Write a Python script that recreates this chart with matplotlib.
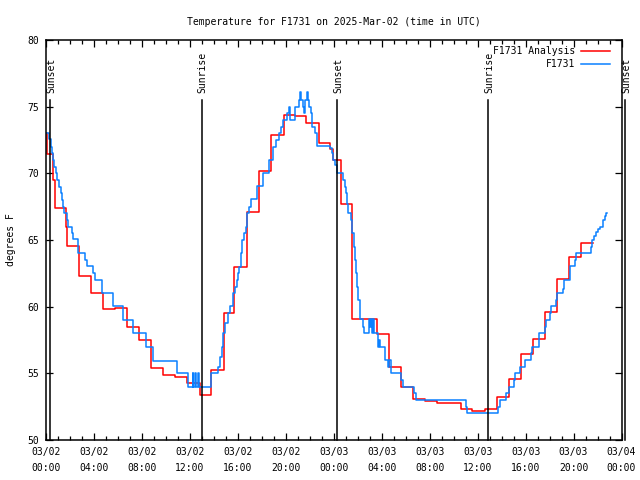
import matplotlib
matplotlib.use('Agg')
import matplotlib.pyplot as plt
from matplotlib.ticker import MultipleLocator

# hours since 2025-03-02 00:00 UTC
analysis_hours = [0.00, 0.05, 0.62, 0.72, 1.67, 1.78, 2.72, 3.75, 4.78, 5.72,
                  6.75, 7.75, 8.75, 9.78, 10.75, 11.78, 12.83, 13.78, 14.83, 15.72,
                  16.78, 17.80, 18.80, 19.85, 20.75, 21.72, 22.75, 23.72, 23.90, 24.60,
                  25.55, 27.58, 28.62, 29.60, 30.62, 31.58, 32.60, 34.58, 35.56, 36.60,
                  37.58, 38.58, 39.60, 40.62, 41.62, 42.58, 43.58, 44.62]
analysis_temps = [73.0, 71.45, 69.5, 67.4, 66.0, 64.55, 62.3, 61.0, 59.8, 59.9,
                  58.45, 57.5, 55.4, 54.9, 54.7, 54.3, 53.4, 55.25, 59.5, 63.0,
                  67.07, 70.2, 72.9, 74.4, 74.3, 73.75, 72.25, 71.8, 71.0, 67.7,
                  59.05, 57.95, 55.45, 54.0, 53.07, 52.9, 52.75, 52.3, 52.2, 52.3,
                  53.25, 54.6, 56.45, 57.6, 59.6, 62.05, 63.7, 64.75]
analysis_end = 45.6

obs_hours = [0.00, 0.28, 0.39, 0.53, 0.61, 0.69, 0.81, 0.94, 1.08, 1.22,
             1.31, 1.44, 1.53, 1.72, 1.83, 2.14, 2.22, 2.69, 3.25, 3.39,
             3.94, 4.08, 4.64, 5.61, 6.39, 7.22, 8.33, 8.89, 10.94, 11.86,
             12.22, 12.27, 12.44, 12.49, 12.67, 12.72, 13.80, 14.36, 14.50, 14.64,
             14.78, 14.92, 15.19, 15.33, 15.60, 15.75, 15.94, 16.03, 16.11, 16.25,
             16.36, 16.50, 16.67, 16.78, 16.92, 17.08, 17.56, 18.11, 18.61, 18.94,
             19.22, 19.44, 19.60, 19.78, 20.10, 20.28, 20.33, 20.75, 21.10, 21.22,
             21.27, 21.40, 21.50, 21.62, 21.78, 21.83, 21.95, 22.08, 22.22, 22.42,
             22.61, 23.72, 23.85, 23.95, 24.10, 24.28, 24.78, 24.92, 25.06, 25.12,
             25.19, 25.47, 25.56, 25.67, 25.78, 25.89, 25.96, 26.06, 26.17, 26.22,
             26.44, 26.53, 26.94, 27.05, 27.12, 27.20, 27.26, 27.32, 27.69, 27.78,
             27.83, 28.25, 28.53, 28.60, 28.81, 29.64, 29.78, 30.67, 30.83, 35.06,
             35.14, 37.69, 37.83, 38.39, 38.61, 39.00, 39.08, 39.50, 39.92, 40.47,
             40.56, 41.11, 41.58, 41.67, 42.00, 42.08, 42.56, 42.64, 43.11, 43.19,
             43.67, 44.14, 44.22, 45.47, 45.56, 45.70, 45.85, 46.03, 46.17, 46.44,
             46.60, 46.69]
obs_temps = [73.0, 72.55, 72.0, 71.5, 71.0, 70.5, 70.0, 69.5, 69.0, 68.5,
             68.0, 67.5, 67.0, 66.5, 66.0, 65.5, 65.05, 64.0, 63.5, 63.05,
             62.5, 62.0, 61.0, 60.05, 59.0, 58.0, 57.0, 55.95, 55.0, 54.0,
             55.0, 54.0, 55.0, 54.0, 55.0, 54.0, 55.0, 55.45, 56.25, 57.0,
             58.0, 58.75, 59.5, 60.05, 61.0, 61.5, 62.0, 62.5, 63.0, 64.0,
             65.0, 65.5, 66.0, 67.0, 67.5, 68.05, 69.05, 70.0, 71.0, 72.0,
             72.5, 73.0, 73.5, 74.0, 74.5, 75.0, 74.0, 75.0, 75.5, 76.1,
             75.5, 75.0, 74.5, 75.5, 76.1, 75.5, 75.0, 74.5, 73.5, 73.0,
             72.05, 71.9, 71.5, 71.0, 70.6, 70.0, 69.5, 69.0, 68.5, 67.7,
             67.0, 66.5, 65.5, 64.5, 63.5, 62.5, 61.5, 60.5, 59.5, 59.05,
             58.5, 58.0, 59.05, 58.5, 59.05, 58.0, 59.05, 58.0, 57.0, 57.5,
             57.0, 56.0, 55.5, 56.0, 55.0, 54.5, 54.0, 53.5, 53.0, 52.5,
             52.0, 52.5, 53.0, 53.5, 54.0, 54.5, 55.0, 55.5, 56.0, 56.5,
             57.0, 58.0, 58.5, 59.0, 59.5, 60.05, 60.5, 61.0, 61.3, 62.0,
             63.05, 63.5, 64.0, 64.5, 65.0, 65.3, 65.6, 65.8, 66.0, 66.5,
             66.8, 67.0]
obs_end = 46.75

sun_hours = [0.36, 12.97, 24.29, 36.86, 48.32]
sun_labels = ['Sunset', 'Sunrise', 'Sunset', 'Sunrise', 'Sunset']

tick_hours = [0, 4, 8, 12, 16, 20, 24, 28, 32, 36, 40, 44, 48]
tick_labels = ['03/02\n00:00', '03/02\n04:00', '03/02\n08:00', '03/02\n12:00',
               '03/02\n16:00', '03/02\n20:00', '03/03\n00:00', '03/03\n04:00',
               '03/03\n08:00', '03/03\n12:00', '03/03\n16:00', '03/03\n20:00',
               '03/04\n00:00']

plt.rcParams['font.family'] = ['DejaVu Sans Mono']
plt.rcParams['font.size'] = 7

fig = plt.figure(figsize=(6.4, 4.8), dpi=100)
ax = fig.add_axes([46 / 640, 40 / 480, 575.5 / 640, 400 / 480])

ax.step(analysis_hours + [analysis_end], analysis_temps + [analysis_temps[-1]],
        where='post', color='#ff0000', lw=1.1, label='F1731 Analysis')
ax.step(obs_hours + [obs_end], obs_temps + [obs_temps[-1]],
        where='post', color='#0a80ff', lw=1.1, label='F1731')

for h, name in zip(sun_hours, sun_labels):
    ax.plot([h, h], [50, 75.5], color='black', lw=1.1, zorder=5, clip_on=False)
    ax.text(h + 0.1, 76.0, name, rotation=90, ha='center', va='bottom', zorder=5)

ax.set_xlim(0, 48)
ax.set_ylim(50, 80)
ax.set_xticks(tick_hours)
ax.set_xticklabels(tick_labels, linespacing=1.75)
ax.xaxis.set_minor_locator(MultipleLocator(1))
ax.set_yticks(range(50, 81, 5))
ax.tick_params(which='both', direction='in', top=True, right=True, width=0.9, pad=5)
ax.tick_params(which='major', length=5)
ax.tick_params(which='minor', length=3)
for s in ax.spines.values():
    s.set_linewidth(1.1)

ax.set_ylabel('degrees F', labelpad=8)
ax.set_title('Temperature for F1731 on 2025-Mar-02 (time in UTC)', fontsize=7, pad=11)

ax.legend(loc='upper right', bbox_to_anchor=(0.9805, 0.984), borderaxespad=0,
          borderpad=0, frameon=False, markerfirst=False, handlelength=3.0,
          handletextpad=0.6, labelspacing=0.3)

plt.savefig('out.png', dpi=100)
